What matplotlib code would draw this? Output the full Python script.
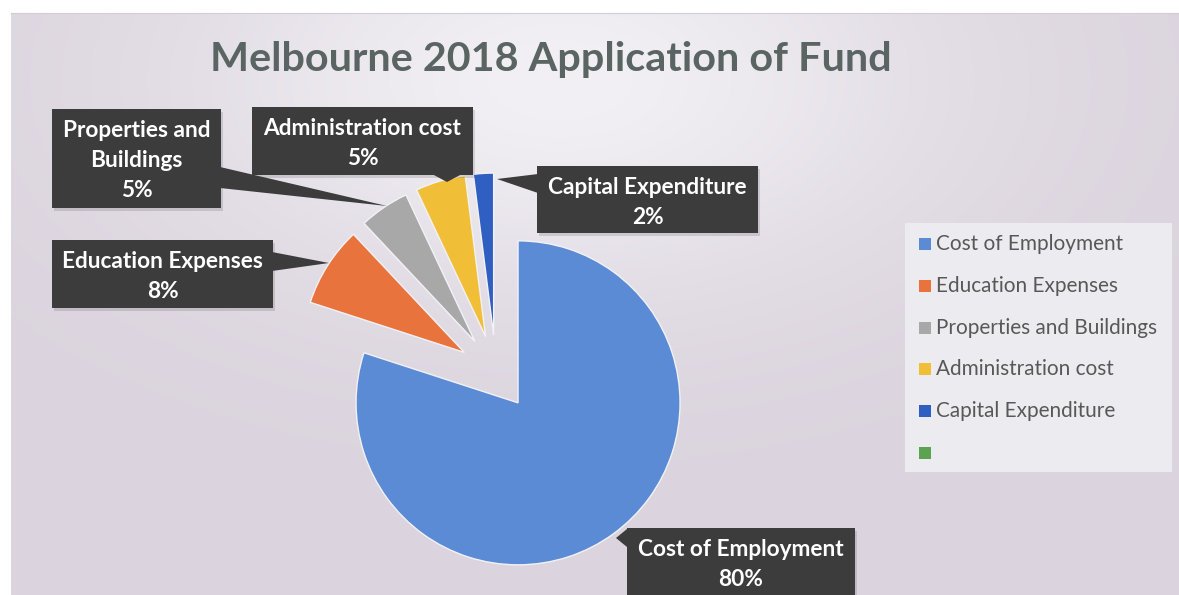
import numpy as np
import matplotlib
matplotlib.use("Agg")
import matplotlib.pyplot as plt
from matplotlib.patches import Rectangle, Polygon

# ---- data ---------------------------------------------------------------
categories = ["Cost of Employment", "Education Expenses", "Properties and Buildings",
              "Administration cost", "Capital Expenditure", ""]
shares = [80, 8, 5, 5, 2, 0]
slice_colors = ["#5b8bd4", "#e8733c", "#a8a8a8", "#f1bf37", "#2f5fc0", "#5ba350"]
callout_names = [["Cost of Employment"], ["Education Expenses"], ["Properties and", "Buildings"],
                 ["Administration cost"], ["Capital Expenditure"]]
chart_title = "Melbourne 2018 Application of Fund"

# ---- canvas (pixel coordinates, y measured downward from the top) -------
W, H = 1179, 595
fig = plt.figure(figsize=(W / 100, H / 100), dpi=100, facecolor="white")
ax = fig.add_axes([0, 0, 1, 1])


def Y(y):
    return H - y


# soft lavender background with a lighter area behind the title
gx, gy = np.meshgrid(np.arange(W), np.arange(H))
base = np.array([219, 212, 222]) / 255.0
light = np.array([242, 240, 244]) / 255.0
glow = np.exp(-(((gx - 560) / 380.0) ** 2 + ((gy - 80) / 210.0) ** 2))
bg = base[None, None, :] + (light - base)[None, None, :] * glow[:, :, None]
ax.imshow(bg, extent=[0, W, 0, H], origin="upper", zorder=0, interpolation="bilinear")
ax.add_patch(Rectangle((0, Y(13)), W, 13, facecolor="white", edgecolor="none", zorder=0.5))
ax.add_patch(Rectangle((0, 0), 11, H, facecolor="white", edgecolor="none", zorder=0.5))
ax.plot([11, W], [Y(13), Y(13)], color="#cfcfcf", lw=0.8, zorder=0.6)

# ---- pie -----------------------------------------------------------------
pie_vals = [v for v in shares if v > 0]
pie_cols = [c for v, c in zip(shares, slice_colors) if v > 0]
wedges, _ = ax.pie(pie_vals, colors=pie_cols, startangle=90, counterclock=False,
                   radius=162, center=(496, Y(372.5)), explode=[37.5] * len(pie_vals),
                   wedgeprops=dict(edgecolor="#f2f2f6", linewidth=1.0, zorder=2))

ax.set_xlim(0, W)
ax.set_ylim(0, H)
ax.set_axis_off()

renderer = fig.canvas.get_renderer()


def fit_size(text, target_px, **kw):
    t = ax.text(0, 0, text, fontsize=20, **kw)
    w = t.get_window_extent(renderer=renderer).width
    t.remove()
    return 20 * target_px / w


# ---- title ---------------------------------------------------------------
title_size = fit_size(chart_title, 682, family="Lato", weight="bold")
ax.text(210, Y(71.5), chart_title, fontsize=title_size, family="Lato", weight="bold",
        color="#5a6563", ha="left", va="baseline", zorder=5)

# ---- data callouts ---------------------------------------------------------
label_size = fit_size("Education Expenses", 201, family="Lato", weight="bold")
box_color = "#3c3c3c"
callouts = [
    # box (x0, y0, x1, y1), pointer polygon
    dict(box=(627, 528, 855, 610), ptr=[(627, 529), (627, 547), (616, 538)]),
    dict(box=(52, 240, 273, 308), ptr=[(272, 252), (272, 271), (329, 263)]),
    dict(box=(52, 109, 221, 208), ptr=[(220, 167), (220, 188), (387, 206)]),
    dict(box=(252, 107, 473, 175), ptr=[(432, 174), (462, 174), (447, 182)]),
    dict(box=(537, 166, 758, 233), ptr=[(538, 174), (538, 193), (497, 179)]),
]
for spec, lines, val in zip(callouts, callout_names, shares):
    x0, y0, x1, y1 = spec["box"]
    # faint drop shadow
    ax.add_patch(Rectangle((x0 + 2, Y(y1 + 3)), x1 - x0, y1 - y0, facecolor="black",
                           alpha=0.12, edgecolor="none", zorder=3))
    ax.add_patch(Rectangle((x0, Y(y1)), x1 - x0, y1 - y0, facecolor=box_color,
                           edgecolor="none", zorder=4))
    ax.add_patch(Polygon([(px, Y(py)) for px, py in spec["ptr"]], closed=True,
                         facecolor=box_color, edgecolor="none", zorder=4))
    cx = (x0 + x1) / 2
    for i, line in enumerate(lines + [f"{val}%"]):
        ax.text(cx, Y(y0 + 21 + 30 * i + 7), line, fontsize=label_size, family="Lato",
                weight="bold", color="white", ha="center", va="baseline", zorder=5)

# ---- legend ---------------------------------------------------------------
ax.add_patch(Rectangle((905, Y(472)), 267, 249, facecolor="#ecebef", edgecolor="none", zorder=3))
legend_size = fit_size("Cost of Employment", 187, family="Lato")
for i, (name, col) in enumerate(zip(categories, slice_colors)):
    yc = 244 + 41.8 * i
    ax.add_patch(Rectangle((919, Y(yc + 6)), 12, 12, facecolor=col, edgecolor="none", zorder=4))
    ax.text(936, Y(yc + 6), name, fontsize=legend_size, family="Lato", color="#585858",
            ha="left", va="baseline", zorder=5)

fig.savefig("out.png", dpi=100, facecolor="white")
